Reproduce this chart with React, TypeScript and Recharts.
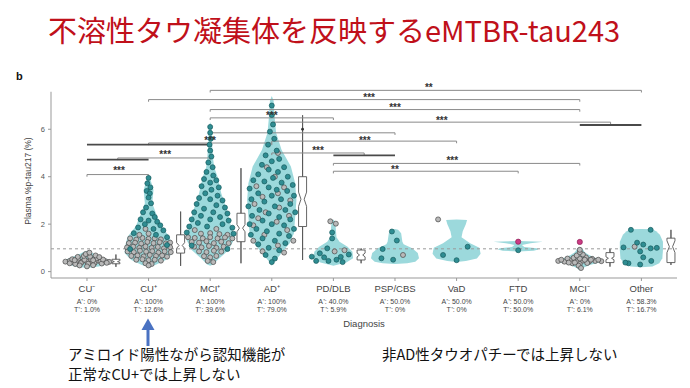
import React from 'react';
import { ComposedChart, Area, Scatter, XAxis, YAxis, ReferenceLine } from 'recharts';

// ---------- categories & tick labels ----------
const categories = ['CU⁻', 'CU⁺', 'MCI⁺', 'AD⁺', 'PD/DLB', 'PSP/CBS', 'VaD', 'FTD', 'MCI⁻', 'Other'];
const amyloidPositive = ['0%', '100%', '100%', '100%', '40.0%', '50.0%', '50.0%', '50.0%', '0%', '58.3%'];
const tauPositive = ['1.0%', '12.6%', '39.6%', '79.0%', '5.9%', '0%', '0%', '50.0%', '6.1%', '16.7%'];
const categoryIndex = [0, 1, 2, 3, 4, 5, 6, 7, 8, 9];
const yTicks = [0, 2, 4, 6];
const tauThreshold = 0.96;
const yDomain: [number, number] = [-0.27, 7.95];
const xDomain: [number, number] = [-0.584, 9.578];
const yAxisTop = 7.58;

// ---------- violin profiles: [y, half width (category units)] ----------
const violinCUneg = [[0.15, 0], [0.21, 0.19], [0.3, 0.3], [0.42, 0.39], [0.52, 0.33], [0.63, 0.23], [0.74, 0.12], [0.84, 0.05], [0.88, 0]];
const violinCUpos = [[0.2, 0], [0.28, 0.11], [0.49, 0.28], [0.78, 0.39], [1.2, 0.37], [1.47, 0.34], [1.9, 0.21], [2.46, 0.12], [2.88, 0.06], [3.44, 0.08], [3.8, 0.04], [4.05, 0]];
const violinMCIpos = [[0.25, 0], [0.3, 0.05], [0.49, 0.12], [0.91, 0.3], [1.42, 0.4], [1.9, 0.34], [2.6, 0.27], [3.3, 0.18], [4.0, 0.12], [4.4, 0.065], [4.7, 0.05], [5.4, 0.03], [6.1, 0.025], [6.3, 0]];
const violinADpos = [[0.25, 0], [0.49, 0.065], [0.78, 0.16], [1.2, 0.29], [1.62, 0.36], [2.32, 0.38], [3.02, 0.4], [3.72, 0.38], [4.43, 0.31], [5.13, 0.16], [5.85, 0.07], [6.4, 0.05], [7.2, 0.03], [7.4, 0]];
const violinPD = [[0.25, 0], [0.38, 0.21], [0.56, 0.32], [0.84, 0.31], [1.05, 0.23], [1.26, 0.1], [1.45, 0.05], [1.8, 0.04], [2.1, 0.03], [2.2, 0]];
const violinPSP = [[0.32, 0], [0.35, 0.2], [0.42, 0.33], [0.56, 0.39], [0.78, 0.37], [0.98, 0.28], [1.15, 0.14], [1.26, 0.12], [1.62, 0.1], [1.76, 0.05], [1.8, 0]];
const violinVaD = [[0.4, 0], [0.45, 0.15], [0.55, 0.33], [0.75, 0.39], [1.0, 0.37], [1.2, 0.22], [1.45, 0.08], [1.7, 0.1], [2.0, 0.15], [2.18, 0.17], [2.2, 0]];
const violinFTD = [[0.85, 0], [0.88, 0.25], [0.93, 0.33], [0.98, 0.3], [1.04, 0.1], [1.12, 0.06], [1.2, 0.2], [1.26, 0.4], [1.29, 0]];
const violinMCIneg = [[0.05, 0], [0.15, 0.05], [0.28, 0.16], [0.42, 0.37], [0.48, 0.39], [0.56, 0.27], [0.7, 0.15], [0.82, 0.08], [0.98, 0.04], [1.02, 0]];
const violinOther = [[0.18, 0], [0.22, 0.18], [0.35, 0.29], [0.56, 0.34], [0.91, 0.35], [1.26, 0.35], [1.55, 0.3], [1.7, 0.24], [1.78, 0.18], [1.8, 0]];
const violinProfiles = [violinCUneg, violinCUpos, violinMCIpos, violinADpos, violinPD, violinPSP, violinVaD, violinFTD, violinMCIneg, violinOther];

// ---------- individual participants: [offset, y, status] (1 = T+, 0 = T-, 2 = highlighted) ----------
const dotsCUneg = [
  [-0.35, 0.42, 0], [-0.28, 0.45, 0], [-0.22, 0.40, 0], [-0.15, 0.44, 0], [-0.08, 0.41, 0], [0, 0.43, 0], [0.08, 0.40, 0], [0.15, 0.45, 0], [0.22, 0.42, 0], [0.30, 0.44, 0], [0.36, 0.41, 0],
  [-0.28, 0.35, 0], [-0.19, 0.32, 0], [-0.10, 0.36, 0], [0.02, 0.33, 0], [0.12, 0.35, 0], [0.24, 0.34, 0],
  [-0.24, 0.52, 0], [-0.14, 0.55, 0], [-0.04, 0.50, 0], [0.06, 0.53, 0], [0.16, 0.56, 0], [0.26, 0.51, 0],
  [-0.12, 0.26, 0], [0, 0.22, 0], [0.10, 0.27, 0],
  [-0.15, 0.62, 0], [-0.05, 0.66, 0], [0.05, 0.63, 0], [0.14, 0.68, 0], [-0.02, 0.74, 0], [0.04, 0.80, 0], [0.20, 0.61, 0],
  [-0.20, 0.48, 0], [0.10, 0.48, 0], [0.32, 0.37, 0],
];
const dotsCUpos = [
  [0, 3.95, 1], [-0.02, 3.72, 1], [0.03, 3.55, 1], [-0.03, 3.4, 1], [0.02, 3.3, 1], [0, 3.12, 1], [0.04, 2.88, 1], [-0.04, 2.7, 1], [-0.09, 2.5, 1], [0.06, 2.45, 1],
  [0.1, 2.3, 1], [-0.13, 2.2, 1], [0, 2.15, 1], [0.14, 2.1, 1], [-0.06, 2.0, 1], [0.19, 1.95, 1], [-0.17, 1.86, 1], [0.08, 1.8, 1], [0.24, 1.74, 1], [-0.24, 1.62, 1],
  [0.3, 1.45, 1], [0.12, 1.55, 1], [-0.3, 0.95, 1], [0.3, 1.12, 1],
  [-0.3, 1.4, 0], [-0.2, 1.35, 0], [-0.1, 1.42, 0], [0, 1.38, 0], [0.1, 1.4, 0], [0.2, 1.36, 0],
  [-0.32, 1.2, 0], [-0.22, 1.22, 0], [-0.12, 1.18, 0], [-0.02, 1.25, 0], [0.08, 1.2, 0], [0.18, 1.24, 0], [0.28, 1.19, 0], [0.35, 1.22, 0],
  [-0.35, 1.02, 0], [-0.25, 1.05, 0], [-0.15, 1.0, 0], [-0.05, 1.06, 0], [0.05, 1.0, 0], [0.15, 1.04, 0], [0.25, 0.98, 0], [0.35, 1.03, 0],
  [-0.34, 0.85, 0], [-0.24, 0.82, 0], [-0.14, 0.88, 0], [-0.04, 0.84, 0], [0.06, 0.86, 0], [0.16, 0.8, 0], [0.26, 0.85, 0], [0.36, 0.82, 0],
  [-0.28, 0.66, 0], [-0.18, 0.68, 0], [-0.08, 0.64, 0], [0.02, 0.7, 0], [0.12, 0.66, 0], [0.22, 0.68, 0], [0.3, 0.63, 0],
  [-0.2, 0.5, 0], [-0.1, 0.52, 0], [0, 0.48, 0], [0.1, 0.5, 0], [0.2, 0.46, 0],
  [-0.05, 0.35, 0], [0.05, 0.32, 0], [0, 0.26, 0], [-0.15, 1.55, 0], [0.0, 1.6, 0], [-0.05, 1.8, 0],
];
const dotsMCIpos = [
  [0, 6.1, 1], [0, 5.85, 1], [0.01, 5.6, 1], [-0.01, 5.35, 1], [0, 5.1, 1], [0.02, 4.85, 1], [-0.03, 4.6, 1], [0.04, 4.4, 1], [-0.06, 4.2, 1], [0.05, 4.05, 1],
  [-0.1, 3.9, 1], [0.1, 3.85, 1], [0, 3.75, 1], [-0.14, 3.6, 1], [0.14, 3.55, 1], [0.02, 3.45, 1], [-0.08, 3.3, 1], [0.12, 3.2, 1], [-0.18, 3.1, 1], [0.2, 3.0, 1],
  [0, 3.05, 1], [-0.22, 2.85, 1], [0.1, 2.8, 1], [0.24, 2.7, 1], [-0.1, 2.65, 1], [-0.26, 2.5, 1], [0.05, 2.5, 1], [0.28, 2.45, 1], [-0.15, 2.35, 1], [0.16, 2.3, 1],
  [-0.3, 2.2, 1], [0, 2.2, 1], [0.3, 2.15, 1], [-0.2, 2.05, 1], [0.2, 2.0, 1], [-0.34, 1.9, 1], [0.36, 1.85, 1], [-0.05, 1.9, 1], [0.38, 1.6, 1], [-0.38, 1.65, 1],
  [-0.3, 1.1, 1], [0.28, 0.95, 1],
  [0.1, 1.8, 0], [-0.25, 1.75, 0], [-0.15, 1.6, 0], [0, 1.62, 0], [0.15, 1.58, 0], [0.28, 1.55, 0], [-0.36, 1.45, 0], [-0.25, 1.42, 0], [-0.12, 1.4, 0], [0, 1.45, 0],
  [0.12, 1.4, 0], [0.24, 1.44, 0], [0.36, 1.4, 0], [-0.3, 1.25, 0], [-0.18, 1.22, 0], [-0.06, 1.28, 0], [0.06, 1.2, 0], [0.18, 1.26, 0], [0.3, 1.2, 0], [-0.26, 1.05, 0],
  [-0.14, 1.02, 0], [-0.02, 1.08, 0], [0.1, 1.0, 0], [0.22, 1.05, 0], [-0.18, 0.85, 0], [-0.06, 0.82, 0], [0.06, 0.88, 0], [0.18, 0.84, 0], [-0.1, 0.65, 0], [0, 0.6, 0],
  [0.1, 0.66, 0], [-0.04, 0.45, 0], [0.05, 0.4, 0],
];
const dotsADpos = [
  [0, 7.0, 1], [0, 6.6, 1], [0.02, 6.2, 1], [-0.03, 5.9, 1], [0.04, 5.6, 1], [-0.06, 5.35, 1], [0.08, 5.1, 1], [-0.1, 4.9, 1], [0.12, 4.75, 1], [0, 4.65, 1],
  [-0.16, 4.5, 1], [0.2, 4.4, 1], [-0.05, 4.3, 1], [0.1, 4.2, 1], [-0.22, 4.1, 1], [0.26, 4.0, 1], [0.02, 3.95, 1], [-0.3, 3.85, 1], [-0.12, 3.8, 1], [0.16, 3.75, 1],
  [0.34, 3.65, 1], [-0.36, 3.5, 1], [-0.05, 3.55, 1], [0.08, 3.45, 1], [0.25, 3.4, 1], [-0.22, 3.3, 1], [0.36, 3.2, 1], [0, 3.2, 1], [-0.33, 3.05, 1], [0.15, 3.05, 1],
  [-0.12, 2.95, 1], [0.3, 2.85, 1], [-0.38, 2.75, 1], [0.05, 2.75, 1], [-0.2, 2.6, 1], [0.22, 2.6, 1], [0.38, 2.5, 1], [-0.05, 2.45, 1], [-0.32, 2.35, 1], [0.12, 2.3, 1],
  [0.3, 2.2, 1], [-0.15, 2.15, 1], [-0.36, 2.0, 1], [0.0, 2.0, 1], [0.2, 1.95, 1], [0.36, 1.8, 1], [-0.25, 1.8, 1], [-0.08, 1.7, 1], [0.12, 1.6, 1], [-0.34, 1.55, 1],
  [0.28, 1.5, 1], [-0.15, 1.4, 1], [0.05, 1.3, 1], [0.22, 1.2, 1], [-0.22, 1.15, 1], [-0.05, 1.0, 1], [0.12, 0.9, 1], [-0.1, 0.7, 1], [0.05, 0.55, 1], [0, 0.4, 1],
  [0.1, 5.0, 0], [-0.08, 4.4, 0], [0.05, 4.0, 0], [-0.25, 3.6, 0], [0.2, 3.55, 0], [0.1, 3.3, 0], [-0.15, 3.15, 0], [0.3, 3.0, 0], [-0.28, 2.85, 0], [0.12, 2.7, 0],
  [-0.1, 2.5, 0], [0.28, 2.35, 0], [-0.22, 2.25, 0], [0.08, 2.1, 0], [-0.3, 1.95, 0], [0.25, 1.75, 0], [-0.12, 1.55, 0], [0.35, 1.3, 0], [-0.3, 1.3, 0], [0.1, 1.1, 0],
  [-0.15, 0.85, 0], [0.2, 0.8, 0],
];
const dotsPD = [
  [-0.05, 2.12, 0], [0.04, 2.02, 0], [-0.02, 1.4, 1], [-0.02, 1.65, 1], [-0.35, 0.63, 1], [-0.22, 0.77, 1], [-0.1, 0.98, 1], [-0.15, 0.6, 1],
  [-0.08, 0.45, 1], [0.05, 0.5, 1], [0.12, 0.62, 1], [0.18, 0.9, 0], [0.25, 0.72, 1], [0.02, 0.85, 0], [-0.28, 0.45, 1], [0.15, 0.4, 1],
];
const dotsPSP = [[-0.05, 1.69, 1], [0.03, 1.31, 1], [-0.2, 0.95, 1], [-0.22, 0.56, 1], [-0.03, 0.5, 1], [0.13, 0.7, 0]];
const dotsVaD = [[-0.3, 2.2, 0], [-0.22, 0.7, 1], [0, 0.48, 1], [0.18, 1.05, 1]];
const dotsFTD = [[0, 1.26, 2], [0, 0.9, 1]];
const dotsMCIneg = [
  [-0.35, 0.45, 0], [-0.25, 0.42, 0], [-0.15, 0.47, 0], [-0.05, 0.43, 0], [0.05, 0.46, 0], [0.15, 0.42, 0], [0.25, 0.45, 0], [0.35, 0.44, 0],
  [-0.2, 0.55, 0], [-0.1, 0.58, 0], [0, 0.55, 0], [0.1, 0.6, 0], [0.2, 0.54, 0], [-0.12, 0.35, 0], [0, 0.32, 0], [0.12, 0.36, 0],
  [-0.05, 0.68, 0], [0.05, 0.72, 0], [0, 0.82, 0], [-0.02, 0.25, 0], [0.02, 0.15, 0], [0, 0.92, 0], [-0.3, 0.5, 0], [0.3, 0.5, 0],
  [-0.08, 0.38, 0], [0.08, 0.5, 0], [-0.18, 0.38, 0], [0.18, 0.5, 0], [0, 1.25, 2],
];
const dotsOther = [
  [-0.17, 1.76, 1], [0.15, 1.76, 1], [-0.07, 1.22, 1], [0.03, 1.14, 1], [-0.29, 1.02, 1], [-0.02, 0.85, 1], [0.15, 0.98, 1],
  [0.03, 0.6, 1], [-0.21, 0.35, 1], [-0.02, 0.3, 1], [0.16, 0.45, 1], [0.25, 1.0, 1], [-0.26, 0.38, 1], [-0.11, 1.05, 0],
];
const dotGroups = [dotsCUneg, dotsCUpos, dotsMCIpos, dotsADpos, dotsPD, dotsPSP, dotsVaD, dotsFTD, dotsMCIneg, dotsOther];

// ---------- notched box plots: [position, lower whisker, q1, median, q3, upper whisker, notch] ----------
const boxStats = [
  [0.47, 0.2, 0.33, 0.42, 0.52, 0.72, 0.04],
  [1.52, 0.24, 0.78, 1.1, 1.55, 2.53, 0.12],
  [2.5, 0.35, 1.26, 1.83, 2.46, 4.36, 0.15],
  [3.5, 0.49, 1.9, 3.05, 4.0, 6.59, 0.3],
  [4.45, 0.35, 0.49, 0.7, 0.91, 0.98, 0.08],
  [8.49, 0.21, 0.38, 0.56, 0.8, 0.96, 0.06],
  [9.48, 0.28, 0.38, 1.05, 1.41, 1.76, 0.25],
];
const boxOutliers = [[3.5, 6.0]];

// ---------- significance brackets: [from, to, y] ----------
const brackets = [
  [2, 9, 7.64], [1, 8, 7.25], [2, 8, 6.83], [2, 4, 6.48], [3, 8.5, 6.3], [2, 5, 5.85], [3, 6, 5.5],
  [1, 3, 5.42], [3, 4.5, 5.0], [0.5, 2, 4.79], [4, 8, 4.56], [4, 7, 4.23], [0, 1, 4.09],
];
const overlapBars = [[0, 2, 5.35], [0, 1, 4.72], [4, 5, 4.9], [8, 9, 6.18]];
const sigLabels: [number, number, string][] = [
  [5.55, 7.85, '**'], [4.58, 7.43, '***'], [5.0, 7.01, '***'], [3.0, 6.66, '***'], [5.76, 6.45, '***'],
  [4.51, 5.63, '***'], [2.0, 5.63, '***'], [3.75, 5.17, '***'], [5.93, 4.76, '***'], [5.0, 4.4, '**'],
  [1.27, 5.0, '***'], [0.52, 4.33, '***'],
];

// ---------- derived tables ----------
const violinSeries = violinProfiles.map((profile, i) => profile.map(([y, w]) => ({ y, v: [i - w, i + w] })));
const BOX_HALF = 0.065;
const NOTCH_HALF = 0.026;
const boxSeries = boxStats.map(([p, lo, q1, med, q3, hi, n]) => [
  { y: lo, v: [p, p] }, { y: q1, v: [p, p] }, { y: q1, v: [p - BOX_HALF, p + BOX_HALF] },
  { y: med - n, v: [p - BOX_HALF, p + BOX_HALF] }, { y: med, v: [p - NOTCH_HALF, p + NOTCH_HALF] },
  { y: med + n, v: [p - BOX_HALF, p + BOX_HALF] }, { y: q3, v: [p - BOX_HALF, p + BOX_HALF] },
  { y: q3, v: [p, p] }, { y: hi, v: [p, p] },
]);
const dotsOf = (status: number) =>
  dotGroups.flatMap((g, i) => g.filter((d) => d[2] === status).map(([dx, y]) => ({ x: i + dx, y })));
const tauNegDots = dotsOf(0);
const tauPosDots = dotsOf(1);
const highlightDots = dotsOf(2);
const outlierRows = boxOutliers.map(([x, y]) => ({ x, y }));
const labelRows = sigLabels.map(([x, y, t]) => ({ x, y, t }));

const AXIS_FONT = '"Liberation Sans", Arial, Helvetica, sans-serif';
const JP_FONT = '"Noto Sans CJK JP", "Noto Sans", sans-serif';

const XTick = (props: any) => {
  const { x, y, payload } = props;
  const i = payload.value as number;
  return (
    <g fontFamily={AXIS_FONT} fill="#444">
      <text x={x} y={y + 10.5} textAnchor="middle" fontSize={9.5}>{categories[i]}</text>
      <text x={x} y={y + 22.5} textAnchor="middle" fontSize={7}>{'A⁺: ' + amyloidPositive[i]}</text>
      <text x={x} y={y + 30.5} textAnchor="middle" fontSize={7}>{'T⁺: ' + tauPositive[i]}</text>
    </g>
  );
};

const tealDot = (p: any) => <circle cx={p.cx} cy={p.cy} r={2.5} fill="#2f8d92" stroke="#175b5f" strokeWidth={0.7} />;
const grayDot = (p: any) => <circle cx={p.cx} cy={p.cy} r={2.5} fill="#b9b9b9" stroke="#484848" strokeWidth={0.7} />;
const pinkDot = (p: any) => <circle cx={p.cx} cy={p.cy} r={2.6} fill="#cc3b84" stroke="#8c1f58" strokeWidth={0.7} />;
const smallDot = (p: any) => <circle cx={p.cx} cy={p.cy} r={1.4} fill="#333" />;
const starLabel = (p: any) => (
  <text x={p.cx} y={p.cy + 5.5} textAnchor="middle" fontSize={10} fontWeight="bold" fill="#333" fontFamily={AXIS_FONT}>
    {p.payload.t}
  </text>
);

export default function App() {
  return (
    <div style={{ position: 'absolute', left: 0, top: 0, width: 690, height: 388, background: '#fff', overflow: 'hidden' }}>
      <div
        style={{
          position: 'absolute', left: 48, top: 11, fontSize: 29, lineHeight: '36px', color: '#c0101a',
          fontFamily: JP_FONT, whiteSpace: 'nowrap',
        }}
      >
        不溶性タウ凝集体を反映するeMTBR-tau243
      </div>
      <div style={{ position: 'absolute', left: 16, top: 70, fontSize: 11, fontWeight: 'bold', fontFamily: AXIS_FONT, color: '#111' }}>b</div>

      <div style={{ position: 'absolute', left: 0, top: 0 }}>
        <ComposedChart
          width={690}
          height={388}
          layout="vertical"
          margin={{ top: 83, right: 13, bottom: 65, left: 0 }}
          style={{ fontFamily: AXIS_FONT }}
        >
          <XAxis
            type="number"
            domain={xDomain}
            ticks={categoryIndex}
            allowDataOverflow
            interval={0}
            height={45}
            tickSize={3}
            tickMargin={0}
            tick={<XTick />}
            tickLine={{ stroke: '#999' }}
            axisLine={{ stroke: '#999' }}
          />
          <YAxis
            type="number"
            dataKey="y"
            domain={yDomain}
            ticks={yTicks}
            reversed
            allowDataOverflow
            width={51}
            axisLine={false}
            tickSize={3}
            tickMargin={3}
            tickLine={{ stroke: '#999' }}
            tick={{ fontSize: 7.5, fill: '#555' }}
          />
          <ReferenceLine
            segment={[{ x: xDomain[0], y: yDomain[0] }, { x: xDomain[0], y: yAxisTop }]}
            stroke="#999"
            ifOverflow="visible"
          />
          {violinSeries.map((rows, i) => (
            <Area
              key={'violin' + i}
              data={rows}
              dataKey="v"
              type="linear"
              fill="#9cd9dc"
              fillOpacity={1}
              stroke="none"
              isAnimationActive={false}
            />
          ))}
          <ReferenceLine y={tauThreshold} stroke="#9a9a9a" strokeDasharray="3 3" />
          {boxSeries.map((rows, i) => (
            <Area
              key={'box' + i}
              data={rows}
              dataKey="v"
              type="linear"
              fill="#ffffff"
              fillOpacity={1}
              stroke="#555"
              strokeWidth={0.9}
              isAnimationActive={false}
            />
          ))}
          <Scatter data={tauNegDots} dataKey="x" shape={grayDot} isAnimationActive={false} />
          <Scatter data={tauPosDots} dataKey="x" shape={tealDot} isAnimationActive={false} />
          <Scatter data={highlightDots} dataKey="x" shape={pinkDot} isAnimationActive={false} />
          <Scatter data={outlierRows} dataKey="x" shape={smallDot} isAnimationActive={false} />
          {brackets.map(([a, b, y], k) => (
            <ReferenceLine key={'br' + k} segment={[{ x: a, y }, { x: b, y }]} stroke="#8a8a8a" strokeWidth={1} ifOverflow="visible" />
          ))}
          {brackets.map(([a, b, y], k) => (
            <ReferenceLine key={'bl' + k} segment={[{ x: a, y }, { x: a, y: y - 0.09 }]} stroke="#8a8a8a" strokeWidth={1} ifOverflow="visible" />
          ))}
          {brackets.map(([a, b, y], k) => (
            <ReferenceLine key={'bt' + k} segment={[{ x: b, y }, { x: b, y: y - 0.09 }]} stroke="#8a8a8a" strokeWidth={1} ifOverflow="visible" />
          ))}
          {overlapBars.map(([a, b, y], k) => (
            <ReferenceLine key={'ob' + k} segment={[{ x: a, y }, { x: b, y }]} stroke="#4a4a4a" strokeWidth={1.8} ifOverflow="visible" />
          ))}
          <Scatter data={labelRows} dataKey="x" shape={starLabel} isAnimationActive={false} />
        </ComposedChart>
      </div>

      <svg width={690} height={388} style={{ position: 'absolute', left: 0, top: 0, pointerEvents: 'none' }}>
        <text
          transform="translate(31,181) rotate(-90)"
          textAnchor="middle"
          fontSize={8.5}
          fill="#444"
          fontFamily={AXIS_FONT}
        >
          Plasma %p-tau217 (%)
        </text>
        <text x={364} y={327} textAnchor="middle" fontSize={9.5} fill="#444" fontFamily={AXIS_FONT}>
          Diagnosis
        </text>
        <rect x={146.5} y={328} width={3} height={18} fill="#4a72c2" />
        <polygon points="141.5,330 148,318.5 154.5,330" fill="#4a72c2" />
      </svg>

      <div style={{ position: 'absolute', left: 68, top: 344, fontSize: 14.5, lineHeight: '20px', color: '#111', fontFamily: JP_FONT, whiteSpace: 'nowrap' }}>
        アミロイド陽性ながら認知機能が
        <br />
        正常なCU+では上昇しない
      </div>
      <div style={{ position: 'absolute', left: 382, top: 344, fontSize: 14.5, lineHeight: '20px', color: '#111', fontFamily: JP_FONT, whiteSpace: 'nowrap' }}>
        非AD性タウオパチーでは上昇しない
      </div>
    </div>
  );
}
